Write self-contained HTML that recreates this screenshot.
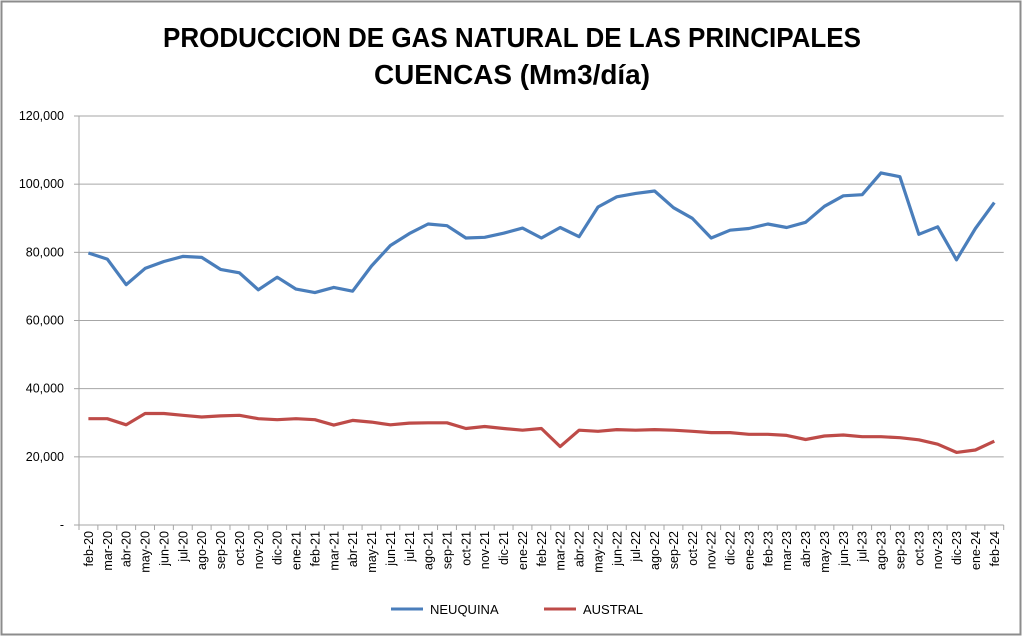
<!DOCTYPE html>
<html><head><meta charset="utf-8"><style>
html,body{margin:0;padding:0;background:#fff;}
svg{display:block;font-family:"Liberation Sans",sans-serif;}
</style></head><body>
<svg id="s" width="1024" height="638" xmlns="http://www.w3.org/2000/svg">
<rect x="0" y="0" width="1024" height="638" fill="#fff"/>
<rect x="1.5" y="1.5" width="1019" height="633" fill="none" stroke="#8c8c8c" stroke-width="2"/>
<text x="512" y="47" text-anchor="middle" font-size="28" font-weight="bold" textLength="698" lengthAdjust="spacingAndGlyphs">PRODUCCION DE GAS NATURAL DE LAS PRINCIPALES</text>
<text x="512" y="84" text-anchor="middle" font-size="28" font-weight="bold" textLength="276" lengthAdjust="spacingAndGlyphs">CUENCAS (Mm3/día)</text>
<g id="grid"></g>
<g id="lines"></g>
<line x1="391" y1="609" x2="423" y2="609" stroke="#4a7ebb" stroke-width="3"/>
<text x="430" y="614" font-size="13">NEUQUINA</text>
<line x1="544" y1="609" x2="576" y2="609" stroke="#be4b48" stroke-width="3"/>
<text x="583" y="614" font-size="13">AUSTRAL</text>
</svg>
<script>
var L=79,R=1003.7,T=116,B=525;
var n=49,w=(R-L)/n;
var N=[79.8,78,70.5,75.3,77.3,78.8,78.5,75,74,69,72.7,69.2,68.2,69.7,68.6,76,82,85.5,88.3,87.8,84.2,84.4,85.6,87.1,84.2,87.3,84.6,93.3,96.3,97.3,98,93.1,90,84.2,86.5,87,88.3,87.3,88.8,93.5,96.6,96.9,103.3,102.2,85.3,87.5,77.8,87,94.6];
var A=[31.2,31.2,29.4,32.7,32.7,32.2,31.7,32,32.2,31.2,30.9,31.2,30.9,29.3,30.7,30.2,29.4,29.9,30,30,28.3,28.9,28.3,27.8,28.3,23,27.8,27.5,28,27.8,28,27.8,27.5,27.1,27.1,26.6,26.6,26.3,25.1,26.1,26.4,25.9,25.9,25.6,25,23.7,21.3,22,24.6];
var mo=["ene","feb","mar","abr","may","jun","jul","ago","sep","oct","nov","dic"];
var g="";
for(var k=0;k<=6;k++){var y=B-(B-T)*k/6;
 if(k>0)g+='<line x1="'+L+'" y1="'+y+'" x2="'+R+'" y2="'+y+'" stroke="#a6a6a6" stroke-width="1"/>';
 g+='<text x="64" y="'+(y+4)+'" text-anchor="end" font-size="12.5">'+(k==0?'-':(k*20)+',000')+'</text>';}
g+='<line x1="'+L+'" y1="'+T+'" x2="'+L+'" y2="'+B+'" stroke="#a6a6a6"/>';
g+='<line x1="'+(L-5)+'" y1="'+B+'" x2="'+R+'" y2="'+B+'" stroke="#a6a6a6"/>';
for(var k=0;k<=6;k++){var y=B-(B-T)*k/6;g+='<line x1="'+(L-5)+'" y1="'+y+'" x2="'+L+'" y2="'+y+'" stroke="#a6a6a6"/>';}
for(var i=0;i<=n;i++){var x=L+w*i;g+='<line x1="'+x+'" y1="'+B+'" x2="'+x+'" y2="'+(B+5)+'" stroke="#a6a6a6"/>';}
for(var i=0;i<n;i++){var m=(1+i)%12,yr=20+Math.floor((1+i)/12);var x=L+w*(i+0.5)+4.5;
 g+='<text transform="translate('+x+',531) rotate(-90)" text-anchor="end" font-size="12.5">'+mo[m]+'-'+yr+'</text>';}
document.getElementById("grid").innerHTML=g;
function pts(d){return d.map(function(v,i){return (L+w*(i+0.5)).toFixed(1)+','+(B-(B-T)*v/120).toFixed(1)}).join(' ');}
document.getElementById("lines").innerHTML='<polyline points="'+pts(N)+'" fill="none" stroke="#4a7ebb" stroke-width="3.2" stroke-linejoin="round"/><polyline points="'+pts(A)+'" fill="none" stroke="#be4b48" stroke-width="3.2" stroke-linejoin="round"/>';
</script>
</body></html>
